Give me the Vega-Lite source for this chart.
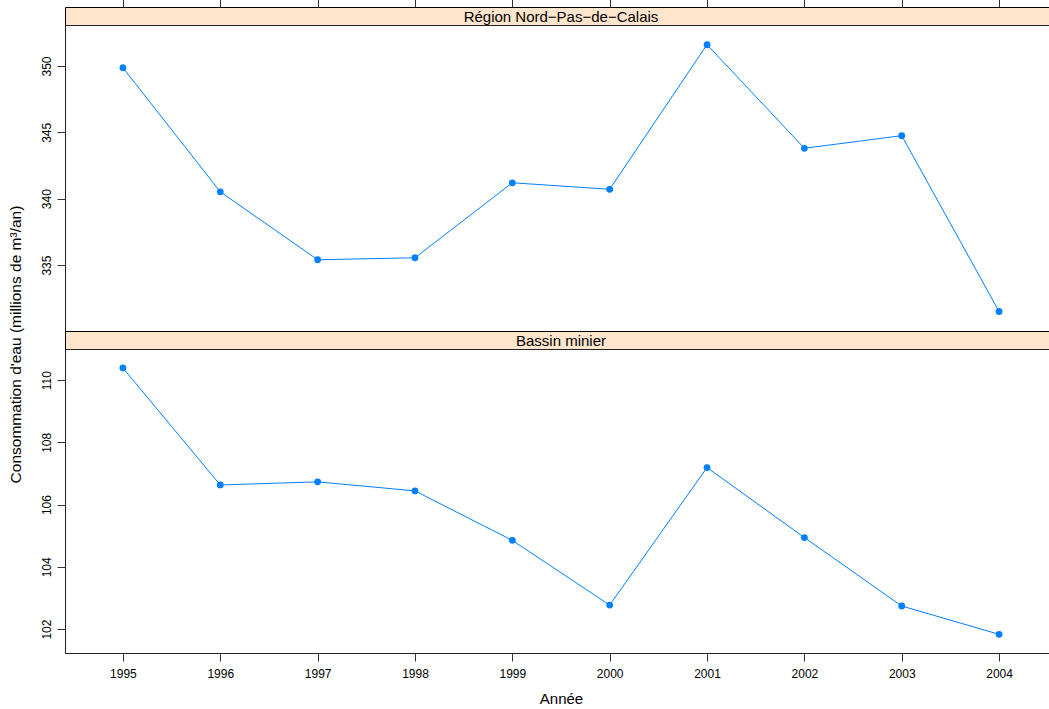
{
  "$schema": "https://vega.github.io/schema/vega-lite/v6.json",
  "background": "white",
  "padding": {"left": 7, "top": -2, "right": 0, "bottom": 0},
  "spacing": 0,
  "bounds": "flush",
  "config": {
    "font": "Liberation Sans",
    "view": {"stroke": "#222", "strokeWidth": 1},
    "axis": {
      "grid": false,
      "domain": false,
      "tickColor": "#333",
      "tickSize": 8,
      "labelFontSize": 12,
      "labelColor": "#000",
      "labelFlush": false,
      "titleFont": "Liberation Sans",
      "titleFontSize": 15,
      "titleFontWeight": "normal",
      "titleColor": "#000"
    }
  },
  "datasets": {
    "conso": [
      {"annee": 1995, "zone": "Région", "valeur": 349.87},
      {"annee": 1996, "zone": "Région", "valeur": 340.52},
      {"annee": 1997, "zone": "Région", "valeur": 335.40},
      {"annee": 1998, "zone": "Région", "valeur": 335.55},
      {"annee": 1999, "zone": "Région", "valeur": 341.20},
      {"annee": 2000, "zone": "Région", "valeur": 340.71},
      {"annee": 2001, "zone": "Région", "valeur": 351.61},
      {"annee": 2002, "zone": "Région", "valeur": 343.80},
      {"annee": 2003, "zone": "Région", "valeur": 344.75},
      {"annee": 2004, "zone": "Région", "valeur": 331.50},
      {"annee": 1995, "zone": "Bassin", "valeur": 110.39},
      {"annee": 1996, "zone": "Bassin", "valeur": 106.63},
      {"annee": 1997, "zone": "Bassin", "valeur": 106.73},
      {"annee": 1998, "zone": "Bassin", "valeur": 106.44},
      {"annee": 1999, "zone": "Bassin", "valeur": 104.85},
      {"annee": 2000, "zone": "Bassin", "valeur": 102.77},
      {"annee": 2001, "zone": "Bassin", "valeur": 107.19},
      {"annee": 2002, "zone": "Bassin", "valeur": 104.94},
      {"annee": 2003, "zone": "Bassin", "valeur": 102.74},
      {"annee": 2004, "zone": "Bassin", "valeur": 101.83}
    ]
  },
  "vconcat": [
    {
      "data": {"values": [{"label": "Région Nord−Pas−de−Calais"}]},
      "width": 992,
      "height": 18,
      "view": {"fill": "#FFE5CC", "stroke": "#000", "strokeWidth": 1},
      "mark": {"type": "text", "fontSize": 15, "font": "Liberation Sans", "color": "#000", "baseline": "alphabetic", "dy": 6},
      "encoding": {"text": {"field": "label", "type": "nominal"}}
    },
    {
      "data": {"name": "conso"},
      "transform": [{"filter": {"field": "zone", "equal": "Région"}}],
      "width": 992,
      "height": 306,
      "encoding": {
        "x": {
          "field": "annee", "type": "quantitative",
          "scale": {"domain": [1994.405, 2004.595], "nice": false, "zero": false},
          "axis": {"orient": "top", "offset": 18, "values": [1995, 1996, 1997, 1998, 1999, 2000, 2001, 2002, 2003, 2004], "labels": false, "title": null}
        },
        "y": {
          "field": "valeur", "type": "quantitative",
          "scale": {"domain": [330.03, 353.09], "nice": false, "zero": false},
          "axis": {"values": [335, 340, 345, 350], "labelAngle": 270, "labelAlign": "center", "labelBaseline": "bottom", "labelPadding": 4, "title": null}
        }
      },
      "layer": [
        {"mark": {"type": "line", "color": "#0080FF", "strokeWidth": 1}},
        {"mark": {"type": "point", "filled": true, "color": "#0080FF", "size": 46, "opacity": 1}}
      ]
    },
    {
      "data": {"values": [{"label": "Bassin minier"}]},
      "width": 992,
      "height": 18,
      "view": {"fill": "#FFE5CC", "stroke": "#000", "strokeWidth": 1},
      "mark": {"type": "text", "fontSize": 15, "font": "Liberation Sans", "color": "#000", "baseline": "alphabetic", "dy": 6},
      "encoding": {"text": {"field": "label", "type": "nominal"}}
    },
    {
      "data": {"name": "conso"},
      "transform": [{"filter": {"field": "zone", "equal": "Bassin"}}],
      "width": 992,
      "height": 304,
      "encoding": {
        "x": {
          "field": "annee", "type": "quantitative",
          "scale": {"domain": [1994.405, 2004.595], "nice": false, "zero": false},
          "axis": {"values": [1995, 1996, 1997, 1998, 1999, 2000, 2001, 2002, 2003, 2004], "format": "d", "labelPadding": 7, "title": "Année", "titleY": 50, "titleBaseline": "alphabetic", "titleAlign": "center"}
        },
        "y": {
          "field": "valeur", "type": "quantitative",
          "scale": {"domain": [101.23, 111.0], "nice": false, "zero": false},
          "axis": {"values": [102, 104, 106, 108, 110], "labelAngle": 270, "labelAlign": "center", "labelBaseline": "bottom", "labelPadding": 4,
                   "title": "Consommation d'eau (millions de m³/an)", "titleFontSize": 15.5, "titleAngle": 270, "titleAlign": "center", "titleBaseline": "alphabetic", "titleX": -45, "titleY": -5}
        }
      },
      "layer": [
        {"mark": {"type": "line", "color": "#0080FF", "strokeWidth": 1}},
        {"mark": {"type": "point", "filled": true, "color": "#0080FF", "size": 46, "opacity": 1}}
      ]
    }
  ]
}
